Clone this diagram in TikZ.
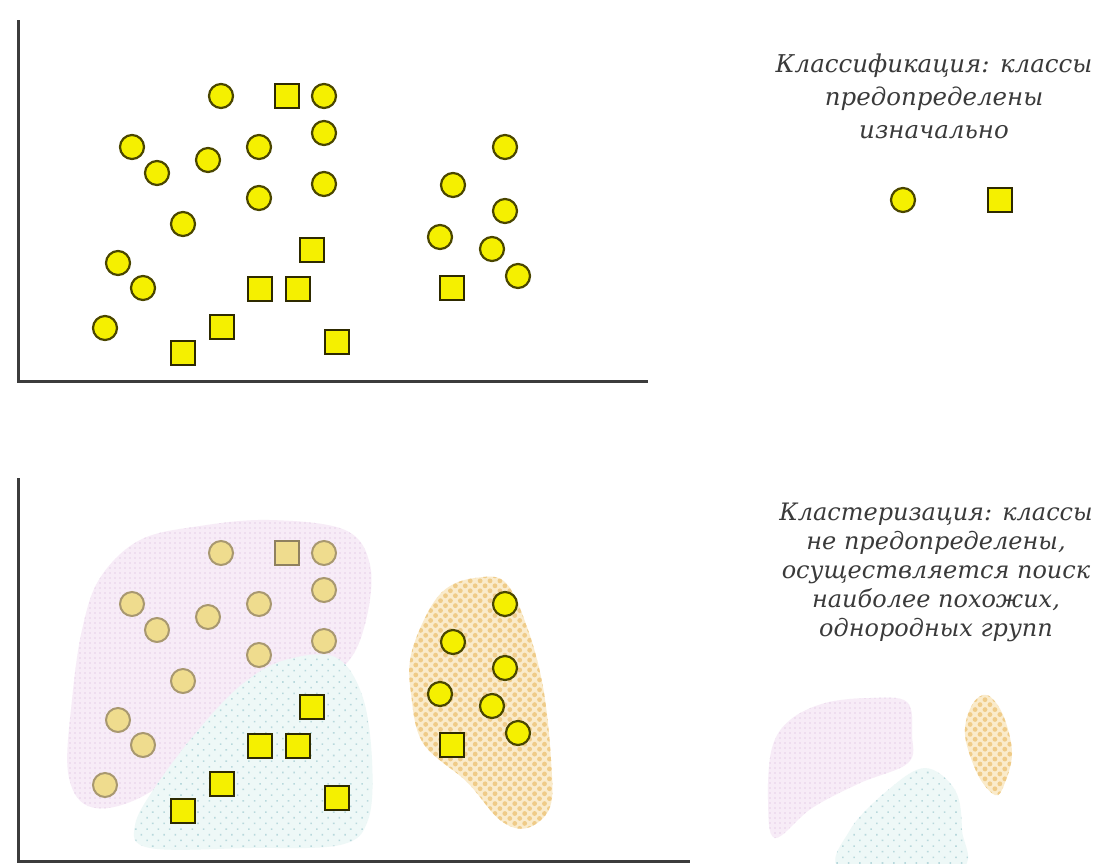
\documentclass[tikz,border=0pt]{standalone}
\usepackage{fontspec}
\setmainfont{DejaVu Serif}
\usetikzlibrary{patterns.meta}
\definecolor{ylw}{HTML}{F5F000}
\definecolor{ylwline}{HTML}{4A4600}
\definecolor{sqline}{HTML}{2E2A00}
\definecolor{fadefill}{HTML}{EFDC8E}
\definecolor{fadeline}{HTML}{A89870}
\definecolor{pinkfill}{HTML}{F7ECF7}
\definecolor{pinkdot}{HTML}{E6CFE8}
\definecolor{bluefill}{HTML}{EEF8F7}
\definecolor{bluedot}{HTML}{B8D8DC}
\definecolor{orfill}{HTML}{FAEBCB}
\definecolor{ordot}{HTML}{EFCB88}
\definecolor{axis}{HTML}{3C3C3C}
\definecolor{txt}{HTML}{3A3A3A}
\tikzset{
  dot/.style={circle, draw=ylwline, fill=ylw, line width=2.2pt, minimum size=24pt, inner sep=0pt},
  sq/.style={rectangle, draw=sqline, fill=ylw, line width=2.2pt, minimum size=24pt, inner sep=0pt},
  fdot/.style={dot, draw=fadeline, fill=fadefill, line width=2pt},
  fsq/.style={sq, draw=fadeline!85!black, fill=fadefill, line width=2pt},
  axisline/.style={draw=axis, line width=3pt},
  label/.style={text=txt, font=\itshape\fontsize{24.5}{33}\selectfont, align=center},
  pinkblob/.style={fill=pinkfill, postaction={pattern={Dots[radius=0.9pt,distance=5pt]}, pattern color=pinkdot}},
  blueblob/.style={fill=bluefill, postaction={pattern={Dots[radius=1.1pt,distance=8pt,angle=45]}, pattern color=bluedot}},
  orblob/.style={fill=orfill, postaction={pattern={Dots[radius=2.4pt,distance=7pt,angle=45]}, pattern color=ordot}}
}
\begin{document}
\begin{tikzpicture}[x=1pt,y=-1pt]
\useasboundingbox (0,0) rectangle (1107,863);
\fill[white] (0,0) rectangle (1107,863);

% ---------- top panel ----------
\coordinate (tA) at (18,20);
\coordinate (tO) at (18,381);
\coordinate (tB) at (648,381);
\draw[axisline] (tA) -- (tO) -- (tB);

\node[dot] (c1) at (221,96) {};
\node[sq]  (s1) at (287,96) {};
\node[dot] (c2) at (324,96) {};
\node[dot] (c3) at (324,133) {};
\node[dot] (c4) at (132,147) {};
\node[dot] (c5) at (259,147) {};
\node[dot] (c6) at (208,160) {};
\node[dot] (c7) at (157,173) {};
\node[dot] (c8) at (259,198) {};
\node[dot] (c9) at (324,184) {};
\node[dot] (c10) at (183,224) {};
\node[sq]  (s2) at (312,250) {};
\node[dot] (c11) at (118,263) {};
\node[sq]  (s3) at (260,289) {};
\node[sq]  (s4) at (298,289) {};
\node[dot] (c12) at (143,288) {};
\node[dot] (c13) at (105,328) {};
\node[sq]  (s5) at (222,327) {};
\node[sq]  (s6) at (337,342) {};
\node[sq]  (s7) at (183,353) {};

\node[dot] (c14) at (505,147) {};
\node[dot] (c15) at (453,185) {};
\node[dot] (c16) at (505,211) {};
\node[dot] (c17) at (440,237) {};
\node[dot] (c18) at (492,249) {};
\node[dot] (c19) at (518,276) {};
\node[sq]  (s8) at (452,288) {};

\node[label] (t1) at (934,96) {Классификация: классы\\предопределены\\изначально};
\node[dot] (lc) at (903,200) {};
\node[sq]  (ls) at (1000,200) {};

% ---------- bottom panel: regions ----------
\path[pinkblob] plot[smooth cycle, tension=0.6] coordinates {(140,540) (200,526) (270,520) (345,530) (370,565) (366,620) (345,665) (290,700) (205,755) (135,800) (88,806) (68,772) (72,700) (82,630) (100,578)};
\path[blueblob] plot[smooth cycle, tension=0.6] coordinates {(285,660) (335,657) (362,695) (372,760) (368,820) (340,845) (250,848) (150,848) (135,825) (160,780) (205,722) (245,682)};
\path[orblob] plot[smooth cycle, tension=0.6] coordinates {(447,588) (475,578) (505,582) (527,627) (543,687) (551,760) (550,807) (527,828) (500,820) (467,782) (423,743) (411,693) (411,655) (428,612)};

\coordinate (bA) at (18,478);
\coordinate (bO) at (18,861);
\coordinate (bB) at (690,861);
\draw[axisline] (bA) -- (bO) -- (bB);

\node[fdot] (d1) at (221,553) {};
\node[fsq]  (q1) at (287,553) {};
\node[fdot] (d2) at (324,553) {};
\node[fdot] (d3) at (324,590) {};
\node[fdot] (d4) at (132,604) {};
\node[fdot] (d5) at (259,604) {};
\node[fdot] (d6) at (208,617) {};
\node[fdot] (d7) at (157,630) {};
\node[fdot] (d8) at (259,655) {};
\node[fdot] (d9) at (324,641) {};
\node[fdot] (d10) at (183,681) {};
\node[sq]   (q2) at (312,707) {};
\node[fdot] (d11) at (118,720) {};
\node[sq]   (q3) at (260,746) {};
\node[sq]   (q4) at (298,746) {};
\node[fdot] (d12) at (143,745) {};
\node[fdot] (d13) at (105,785) {};
\node[sq]   (q5) at (222,784) {};
\node[sq]   (q6) at (337,798) {};
\node[sq]   (q7) at (183,811) {};

\node[dot] (d14) at (505,604) {};
\node[dot] (d15) at (453,642) {};
\node[dot] (d16) at (505,668) {};
\node[dot] (d17) at (440,694) {};
\node[dot] (d18) at (492,706) {};
\node[dot] (d19) at (518,733) {};
\node[sq]  (q8) at (452,745) {};

\node[label, font=\itshape\fontsize{24}{29}\selectfont] (t2) at (936,572) {Кластеризация: классы\\не предопределены,\\осуществляется поиск\\наиболее похожих,\\однородных групп};

% legend blobs
\path[pinkblob] plot[smooth cycle, tension=0.6] coordinates {(790,720) (825,703) (870,698) (907,702) (912,735) (908,763) (860,783) (812,808) (775,838) (768,800) (772,748)};
\path[blueblob] plot[smooth cycle, tension=0.6] coordinates {(925,768) (955,790) (962,830) (958,870) (843,870) (850,830) (888,790)};
\path[orblob] plot[smooth cycle, tension=0.6] coordinates {(987,695) (1003,715) (1012,753) (1004,785) (995,795) (978,775) (965,735) (972,705)};
\end{tikzpicture}
\end{document}
